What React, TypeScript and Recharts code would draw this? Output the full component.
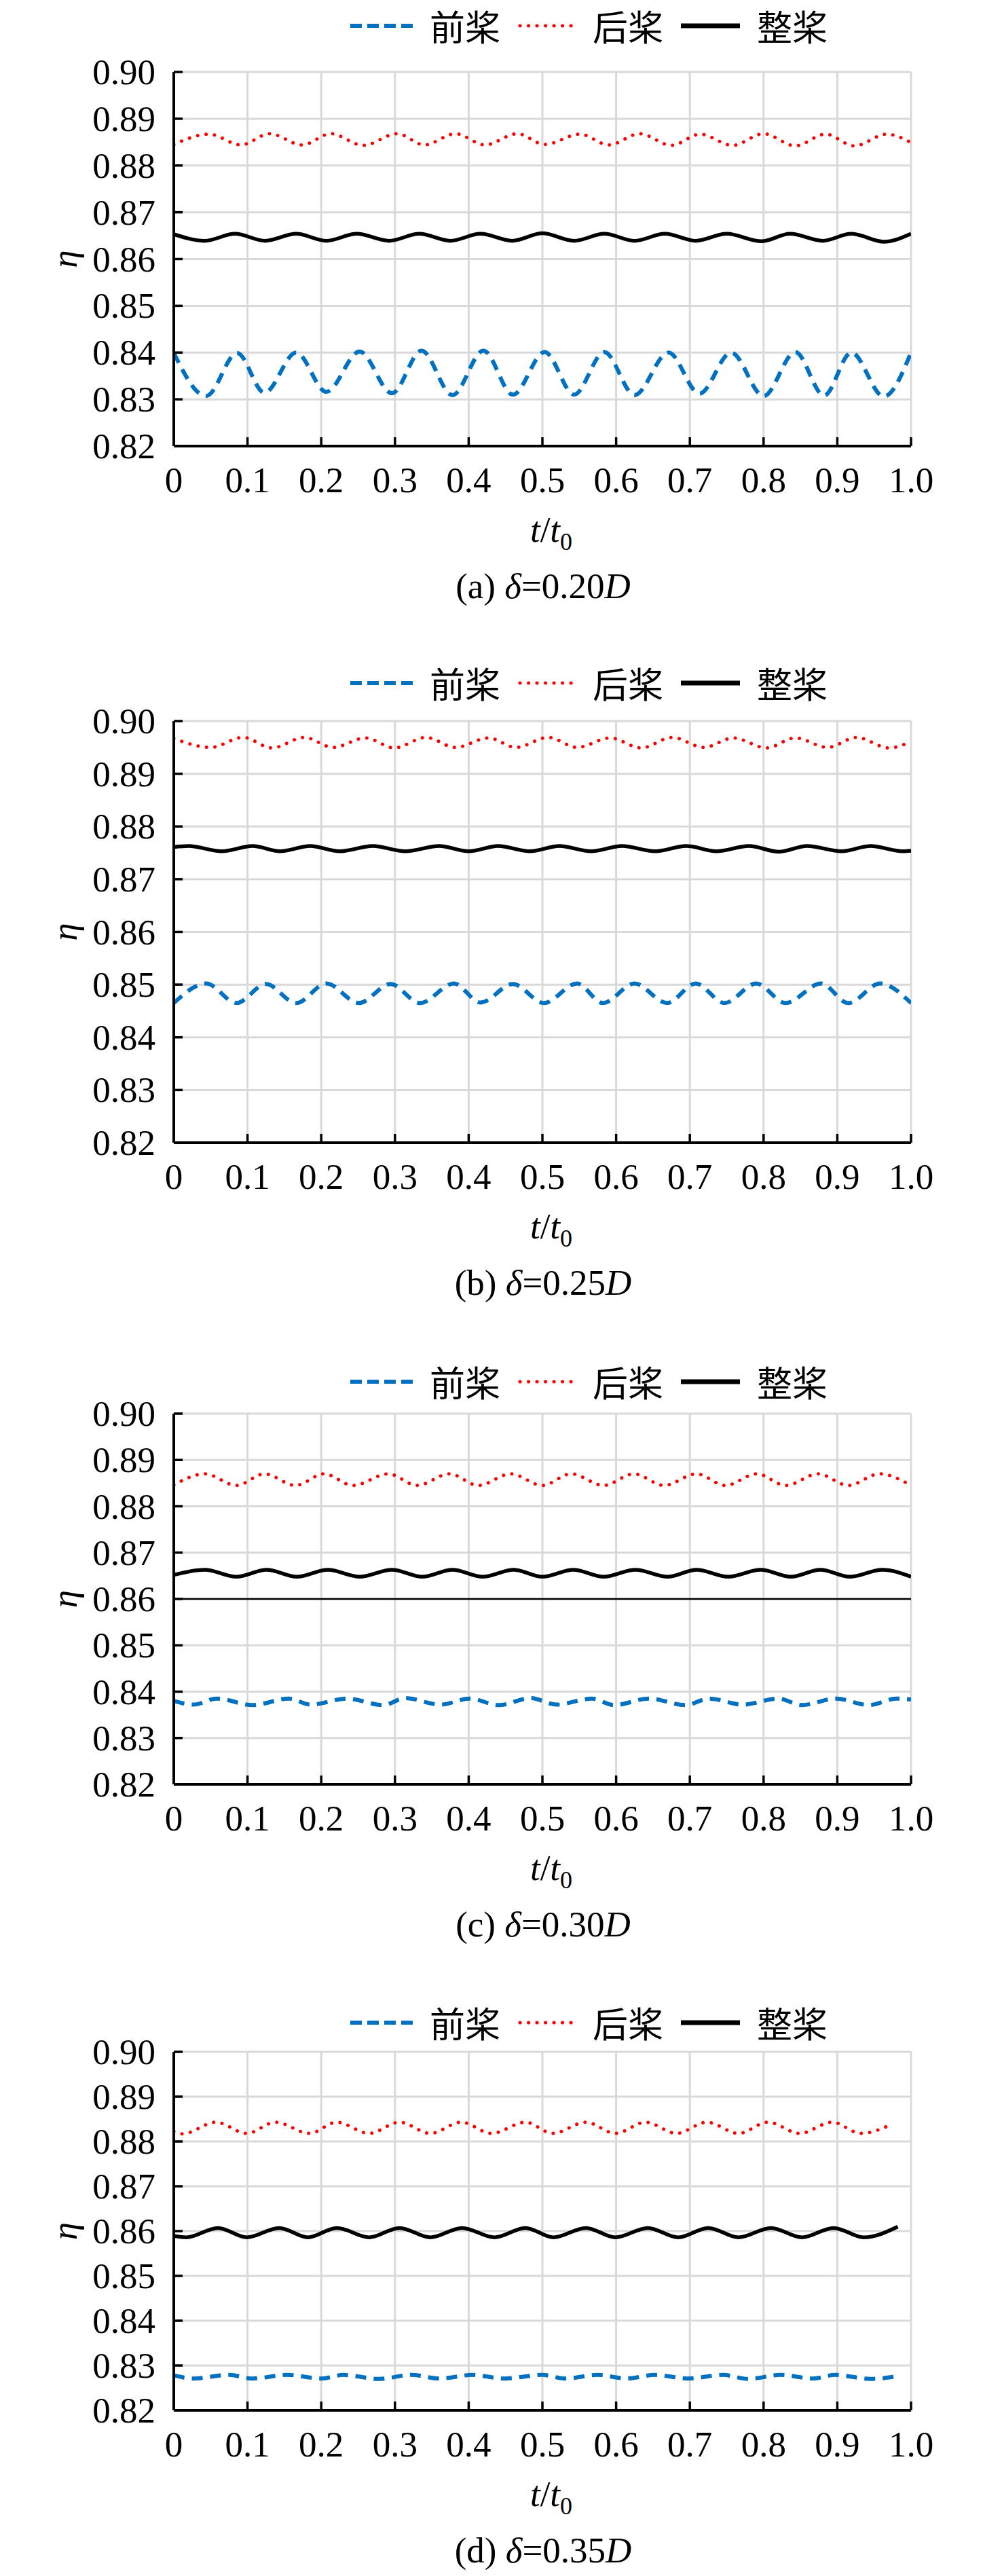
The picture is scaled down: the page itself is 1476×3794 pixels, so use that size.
import React from "react";
import { LineChart, Line, XAxis, YAxis, CartesianGrid, ReferenceLine } from "recharts";

const xTicks = [0, 0.1, 0.2, 0.3, 0.4, 0.5, 0.6, 0.7, 0.8, 0.9, 1.0];
const yTicks = [0.82, 0.83, 0.84, 0.85, 0.86, 0.87, 0.88, 0.89, 0.9];
const seriesNames = ["前桨", "后桨", "整桨"];

// (a) δ=0.20D
const aFrontT = [0, 0.044, 0.086, 0.123, 0.166, 0.207, 0.252, 0.296, 0.336, 0.378, 0.42, 0.46, 0.503, 0.543, 0.584, 0.625, 0.671, 0.713, 0.756, 0.8, 0.843, 0.882, 0.919, 0.963, 1.0];
const aFrontV = [0.8399, 0.8307, 0.8399, 0.8314, 0.84, 0.8316, 0.8402, 0.8313, 0.8404, 0.8309, 0.8404, 0.831, 0.8401, 0.831, 0.8401, 0.8309, 0.84, 0.8312, 0.84, 0.8307, 0.8401, 0.8308, 0.84, 0.8306, 0.84];
const aRearT = [0, 0.048, 0.091, 0.13, 0.174, 0.213, 0.257, 0.303, 0.34, 0.382, 0.422, 0.466, 0.503, 0.551, 0.59, 0.632, 0.675, 0.714, 0.758, 0.8, 0.843, 0.884, 0.923, 0.967, 1.0];
const aRearV = [0.8845, 0.8867, 0.8844, 0.8868, 0.8844, 0.8868, 0.8843, 0.8868, 0.8844, 0.8868, 0.8844, 0.8868, 0.8845, 0.8867, 0.8844, 0.8868, 0.8843, 0.8867, 0.8843, 0.8868, 0.8842, 0.8867, 0.8842, 0.8867, 0.8849];
const aWholeT = [0, 0.042, 0.083, 0.124, 0.166, 0.207, 0.248, 0.292, 0.333, 0.375, 0.416, 0.459, 0.5, 0.543, 0.584, 0.625, 0.666, 0.708, 0.75, 0.797, 0.836, 0.88, 0.919, 0.963, 1.0];
const aWholeV = [0.8653, 0.8639, 0.8654, 0.8639, 0.8654, 0.8639, 0.8654, 0.8639, 0.8654, 0.8639, 0.8654, 0.8639, 0.8655, 0.8639, 0.8654, 0.8639, 0.8654, 0.8639, 0.8654, 0.8638, 0.8654, 0.8639, 0.8654, 0.8637, 0.8654];

// (b) δ=0.25D
const bFrontT = [0, 0.044, 0.085, 0.125, 0.166, 0.207, 0.251, 0.294, 0.334, 0.38, 0.416, 0.46, 0.502, 0.547, 0.582, 0.625, 0.669, 0.708, 0.747, 0.79, 0.83, 0.878, 0.915, 0.958, 1.0];
const bFrontV = [0.8465, 0.8502, 0.8465, 0.8501, 0.8465, 0.8502, 0.8465, 0.8501, 0.8465, 0.8502, 0.8466, 0.8501, 0.8465, 0.8502, 0.8465, 0.8502, 0.8465, 0.8502, 0.8465, 0.8502, 0.8465, 0.8502, 0.8465, 0.8502, 0.8465];
const bRearT = [0, 0.05, 0.094, 0.133, 0.177, 0.216, 0.26, 0.299, 0.342, 0.382, 0.427, 0.464, 0.508, 0.547, 0.592, 0.634, 0.676, 0.719, 0.759, 0.804, 0.843, 0.887, 0.926, 0.97, 1.0];
const bRearV = [0.8967, 0.895, 0.8969, 0.8949, 0.8969, 0.895, 0.8968, 0.8949, 0.8969, 0.895, 0.8968, 0.895, 0.8969, 0.895, 0.8968, 0.8949, 0.8969, 0.895, 0.8968, 0.8949, 0.8968, 0.895, 0.8969, 0.8949, 0.8961];
const bWholeT = [0, 0.02, 0.065, 0.107, 0.144, 0.185, 0.225, 0.27, 0.314, 0.36, 0.4, 0.44, 0.483, 0.523, 0.566, 0.608, 0.653, 0.695, 0.736, 0.78, 0.821, 0.859, 0.906, 0.945, 0.989, 1.0];
const bWholeV = [0.8761, 0.8763, 0.8753, 0.8763, 0.8753, 0.8763, 0.8753, 0.8763, 0.8753, 0.8763, 0.8753, 0.8763, 0.8753, 0.8763, 0.8753, 0.8763, 0.8753, 0.8763, 0.8753, 0.8763, 0.8752, 0.8763, 0.8753, 0.8763, 0.8753, 0.8754];

// (c) δ=0.30D
const cFrontT = [0, 0.027, 0.058, 0.107, 0.156, 0.186, 0.235, 0.284, 0.314, 0.362, 0.401, 0.441, 0.484, 0.519, 0.567, 0.597, 0.645, 0.694, 0.726, 0.772, 0.82, 0.852, 0.898, 0.943, 0.98, 1.0];
const cFrontV = [0.838, 0.8372, 0.8385, 0.8371, 0.8385, 0.8372, 0.8385, 0.8371, 0.8386, 0.8372, 0.8385, 0.8371, 0.8386, 0.8372, 0.8385, 0.8371, 0.8385, 0.8371, 0.8385, 0.8372, 0.8385, 0.8371, 0.8385, 0.8371, 0.8385, 0.8383];
const cRearT = [0, 0.042, 0.085, 0.123, 0.165, 0.204, 0.243, 0.291, 0.33, 0.374, 0.413, 0.457, 0.5, 0.539, 0.583, 0.624, 0.665, 0.709, 0.748, 0.791, 0.83, 0.874, 0.915, 0.957, 1.0];
const cRearV = [0.8846, 0.887, 0.8845, 0.887, 0.8845, 0.887, 0.8845, 0.887, 0.8845, 0.887, 0.8845, 0.887, 0.8845, 0.887, 0.8845, 0.887, 0.8845, 0.887, 0.8845, 0.887, 0.8845, 0.887, 0.8845, 0.887, 0.8845];
const cWholeT = [0, 0.042, 0.085, 0.126, 0.167, 0.209, 0.252, 0.296, 0.337, 0.378, 0.419, 0.461, 0.5, 0.542, 0.583, 0.626, 0.67, 0.709, 0.752, 0.796, 0.837, 0.877, 0.917, 0.961, 1.0];
const cWholeV = [0.8652, 0.8663, 0.8648, 0.8663, 0.8648, 0.8663, 0.8648, 0.8663, 0.8648, 0.8663, 0.8648, 0.8663, 0.8648, 0.8663, 0.8648, 0.8663, 0.8648, 0.8663, 0.8648, 0.8663, 0.8648, 0.8663, 0.8648, 0.8663, 0.8648];

// (d) δ=0.35D
const dFrontT = [0, 0.026, 0.075, 0.106, 0.154, 0.2, 0.23, 0.278, 0.322, 0.361, 0.405, 0.448, 0.5, 0.531, 0.575, 0.614, 0.653, 0.697, 0.745, 0.779, 0.823, 0.867, 0.897, 0.945, 0.98];
const dFrontV = [0.8278, 0.8271, 0.8279, 0.8271, 0.8279, 0.8271, 0.8279, 0.827, 0.8279, 0.8271, 0.8279, 0.8271, 0.8279, 0.8271, 0.8279, 0.8271, 0.8279, 0.8271, 0.8279, 0.827, 0.8279, 0.8271, 0.8279, 0.827, 0.8276];
const dRearT = [0, 0.012, 0.057, 0.099, 0.138, 0.184, 0.221, 0.265, 0.306, 0.348, 0.39, 0.431, 0.477, 0.514, 0.559, 0.599, 0.64, 0.682, 0.723, 0.766, 0.806, 0.849, 0.893, 0.932, 0.976];
const dRearV = [0.8822, 0.8817, 0.8843, 0.8818, 0.8843, 0.8818, 0.8843, 0.8818, 0.8843, 0.8818, 0.8843, 0.8818, 0.8843, 0.8818, 0.8843, 0.8818, 0.8843, 0.8818, 0.8843, 0.8818, 0.8843, 0.8818, 0.8843, 0.8818, 0.884];
const dWholeT = [0, 0.017, 0.06, 0.099, 0.143, 0.182, 0.221, 0.265, 0.306, 0.348, 0.391, 0.435, 0.477, 0.515, 0.559, 0.599, 0.643, 0.684, 0.725, 0.766, 0.81, 0.852, 0.895, 0.936, 0.982];
const dWholeV = [0.8589, 0.8586, 0.8607, 0.8586, 0.8607, 0.8586, 0.8607, 0.8586, 0.8607, 0.8586, 0.8607, 0.8586, 0.8607, 0.8586, 0.8607, 0.8586, 0.8607, 0.8586, 0.8607, 0.8586, 0.8607, 0.8586, 0.8607, 0.8586, 0.861];

const SERIF = '"Liberation Serif", "Times New Roman", serif';
const CJK = '"Noto Sans CJK SC", "Liberation Serif", serif';
const FS = 53;
const LEGEND_FS = 52;

const styles = [
  { color: "#0070c0", width: 6, dash: "16 11", cap: "butt" as const },
  { color: "#ff0000", width: 5, dash: "0.1 12.4", cap: "round" as const },
  { color: "#000000", width: 5.5, dash: undefined, cap: "butt" as const },
];

const pts = (t: number[], v: number[]) => t.map((x, i) => ({ t: x, v: v[i] }));

const PLOT_LEFT = 256;
const PLOT_RIGHT = 1342;
const TOP_PAD = 40;
const XAXIS_H = 260;

function YTick(props: any) {
  const { x, y, payload } = props;
  return (
    <g>
      <line x1={x + 27} x2={x + 40} y1={y} y2={y} stroke="#000" strokeWidth={3.5} />
      <text x={x} y={y} dy="0.34em" textAnchor="end" fontFamily={SERIF} fontSize={FS} fill="#000">
        {Number(payload.value).toFixed(2)}
      </text>
    </g>
  );
}

function XTick(props: any) {
  const { x, y, payload } = props;
  const v = Number(payload.value);
  return (
    <g>
      <line x1={x} x2={x} y1={y} y2={y - 13} stroke="#000" strokeWidth={3.5} />
      <text x={x} y={y + 68} textAnchor="middle" fontFamily={SERIF} fontSize={FS} fill="#000">
        {v === 0 ? "0" : v.toFixed(1)}
      </text>
    </g>
  );
}

function EtaLabel(props: any) {
  const vb = props.viewBox || {};
  const cx = 95;
  const cy = vb.y + vb.height / 2;
  return (
    <text x={cx} y={cy} transform={`rotate(-90 ${cx} ${cy})`} textAnchor="middle" dominantBaseline="central"
      fontFamily={SERIF} fontStyle="italic" fontSize={FS} fill="#000">
      η
    </text>
  );
}

function makeXLabel(letter: string, delta: string) {
  return function XLabel(props: any) {
    const vb = props.viewBox || {};
    const y0 = vb.y;
    return (
      <g fontFamily={SERIF} fill="#000">
        <text x={812} y={y0 + 141} textAnchor="middle" fontSize={FS}>
          <tspan fontStyle="italic">t</tspan>
          <tspan>/</tspan>
          <tspan fontStyle="italic">t</tspan>
          <tspan fontSize={36} dy={12}>0</tspan>
        </text>
        <text x={800} y={y0 + 224} textAnchor="middle" fontSize={FS}>
          <tspan>{`(${letter}) `}</tspan>
          <tspan fontStyle="italic">δ</tspan>
          <tspan>{`=${delta}`}</tspan>
          <tspan fontStyle="italic">D</tspan>
        </text>
      </g>
    );
  };
}

function LegendRow({ top }: { top: number }) {
  const sampleW = [95, 88, 90];
  return (
    <div style={{ position: "absolute", left: 516, top: top - 38, height: 76, display: "flex", alignItems: "center" }}>
      {seriesNames.map((name, i) => (
        <div key={name} style={{ display: "flex", alignItems: "center", marginRight: i < 2 ? 26 : 0 }}>
          <svg width={sampleW[i]} height={20} style={{ display: "block" }}>
            <line x1={styles[i].cap === "round" ? 3 : 0} x2={sampleW[i] - 3} y1={10} y2={10} stroke={styles[i].color}
              strokeWidth={i === 2 ? 7 : styles[i].width} strokeDasharray={i === 0 ? "17 8" : styles[i].dash}
              strokeLinecap={styles[i].cap} />
          </svg>
          <span style={{ fontFamily: CJK, fontSize: LEGEND_FS, lineHeight: "76px", marginLeft: 22, color: "#000" }}>{name}</span>
        </div>
      ))}
    </div>
  );
}

type PanelProps = {
  letter: string;
  delta: string;
  front: { t: number; v: number }[];
  rear: { t: number; v: number }[];
  whole: { t: number; v: number }[];
  plotTop: number;
  plotBottom: number;
  legendY: number;
  refLine?: number;
};

function Panel({ letter, delta, front, rear, whole, plotTop, plotBottom, legendY, refLine }: PanelProps) {
  const plotH = plotBottom - plotTop;
  const height = TOP_PAD + plotH + XAXIS_H;
  const XLabel = makeXLabel(letter, delta);
  const series = [front, rear, whole];
  return (
    <>
      <LegendRow top={legendY} />
      <div style={{ position: "absolute", left: 0, top: plotTop - TOP_PAD }}>
        <LineChart width={1476} height={height} margin={{ top: TOP_PAD, right: 1476 - PLOT_RIGHT, bottom: 0, left: 0 }}>
          <CartesianGrid stroke="#d9d9d9" strokeWidth={3} />
          <XAxis type="number" dataKey="t" domain={[0, 1]} ticks={xTicks} interval={0} height={XAXIS_H}
            axisLine={{ stroke: "#000", strokeWidth: 4 }} tickLine={false} tickSize={0} tickMargin={0}
            tick={<XTick />} label={{ content: (p: any) => <XLabel {...p} /> }} allowDataOverflow />
          <YAxis type="number" domain={[0.82, 0.9]} ticks={yTicks} interval={0} width={PLOT_LEFT}
            axisLine={{ stroke: "#000", strokeWidth: 4 }} tickLine={false} tickSize={0} tickMargin={27}
            tick={<YTick />} label={{ content: (p: any) => <EtaLabel {...p} /> }} allowDataOverflow />
          {refLine !== undefined && <ReferenceLine y={refLine} stroke="#000" strokeWidth={2.5} />}
          {series.map((d, i) => (
            <Line key={seriesNames[i]} data={d} dataKey="v" name={seriesNames[i]} type="monotone"
              stroke={styles[i].color} strokeWidth={styles[i].width} strokeDasharray={styles[i].dash}
              strokeLinecap={styles[i].cap} dot={false} activeDot={false} isAnimationActive={false} />
          ))}
        </LineChart>
      </div>
    </>
  );
}

export default function App() {
  return (
    <div style={{ position: "absolute", left: 0, top: 0, width: 1476, height: 3794, background: "#fff", overflow: "hidden" }}>
      <Panel letter="a" delta="0.20" front={pts(aFrontT, aFrontV)} rear={pts(aRearT, aRearV)} whole={pts(aWholeT, aWholeV)}
        plotTop={106} plotBottom={657} legendY={38} />
      <Panel letter="b" delta="0.25" front={pts(bFrontT, bFrontV)} rear={pts(bRearT, bRearV)} whole={pts(bWholeT, bWholeV)}
        plotTop={1062} plotBottom={1683} legendY={1006} />
      <Panel letter="c" delta="0.30" front={pts(cFrontT, cFrontV)} rear={pts(cRearT, cRearV)} whole={pts(cWholeT, cWholeV)}
        plotTop={2082} plotBottom={2628} legendY={2035} refLine={0.86} />
      <Panel letter="d" delta="0.35" front={pts(dFrontT, dFrontV)} rear={pts(dRearT, dRearV)} whole={pts(dWholeT, dWholeV)}
        plotTop={3022} plotBottom={3550} legendY={2979} />
    </div>
  );
}
